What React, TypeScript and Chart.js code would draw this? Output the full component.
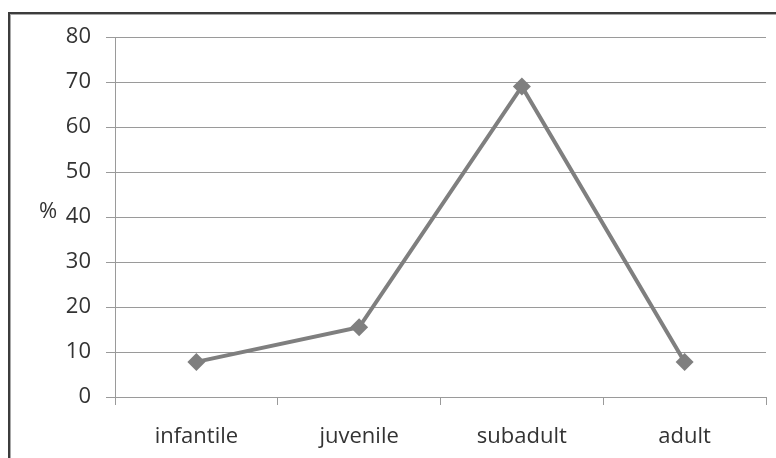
import React, { useEffect, useRef } from "react";
import { Chart, registerables } from "chart.js";

Chart.register(...registerables);

const categories = ["infantile", "juvenile", "subadult", "adult"];
const percentages = [7.8, 15.5, 69, 7.8];
const yTickMin = 0;
const yTickMax = 80;
const yTickStep = 10;
const yTitle = "%";

const FONT = "'Open Sans', 'Noto Sans', sans-serif";
const TEXT = "#333333";
const GRID = "#9a9a9a";
const LINE = "#7f7f7f";

// Outer frame (top and left edges) plus the horizontal "%" axis label
const framePlugin = {
  id: "frame",
  beforeDraw(chart: any) {
    const ctx = chart.ctx;
    ctx.save();
    ctx.fillStyle = "#ffffff";
    ctx.fillRect(0, 0, chart.width, chart.height);
    ctx.fillStyle = "#3c3c3c";
    ctx.fillRect(8, 12, chart.width - 8, 2);
    ctx.fillRect(8, 12, 2, chart.height - 12);
    ctx.fillStyle = "#a8a8a8";
    ctx.fillRect(10, 14, chart.width - 10, 1);
    ctx.fillRect(10, 14, 1, chart.height - 14);
    ctx.restore();
  },
  afterDraw(chart: any) {
    const ctx = chart.ctx;
    const y = chart.scales.y;
    ctx.save();
    ctx.fillStyle = TEXT;
    ctx.font = `22px ${FONT}`;
    ctx.textAlign = "center";
    ctx.textBaseline = "middle";
    ctx.fillText(yTitle, 48, y.getPixelForValue(41.2));
    ctx.restore();
  },
};

export default function App() {
  const ref = useRef<HTMLCanvasElement | null>(null);

  useEffect(() => {
    if (!ref.current) return;
    const chart = new Chart(ref.current, {
      type: "line",
      data: {
        labels: categories,
        datasets: [
          {
            data: percentages,
            borderColor: LINE,
            backgroundColor: LINE,
            borderWidth: 4,
            pointStyle: "rectRot",
            pointRadius: 9,
            pointBorderWidth: 0,
            pointBackgroundColor: LINE,
            tension: 0,
          },
        ],
      },
      options: {
        animation: false,
        responsive: false,
        devicePixelRatio: 1,
        layout: { padding: { top: 37, right: 10, bottom: 0, left: 0 } },
        plugins: { legend: { display: false }, tooltip: { enabled: false } },
        scales: {
          x: {
            type: "category",
            offset: true,
            afterFit(scale: any) {
              scale.height = 61;
            },
            grid: {
              offset: true,
              drawOnChartArea: false,
              drawTicks: true,
              tickLength: 8,
              color: GRID,
              lineWidth: 1,
            },
            border: { display: true, color: GRID, width: 1 },
            ticks: {
              color: TEXT,
              font: { family: FONT, size: 22 },
              padding: 19,
              maxRotation: 0,
            },
          },
          y: {
            min: yTickMin,
            max: yTickMax,
            afterFit(scale: any) {
              scale.width = 115;
            },
            ticks: {
              stepSize: yTickStep,
              color: TEXT,
              font: { family: FONT, size: 22 },
              padding: 15,
            },
            grid: {
              color: GRID,
              lineWidth: 1,
              tickLength: 9,
            },
            border: { display: true, color: GRID, width: 1 },
          },
        },
      },
      plugins: [framePlugin],
    });
    return () => chart.destroy();
  }, []);

  return (
    <div style={{ position: "fixed", left: 0, top: 0, width: 776, height: 458 }}>
      <canvas ref={ref} width={776} height={458} style={{ display: "block" }} />
    </div>
  );
}
